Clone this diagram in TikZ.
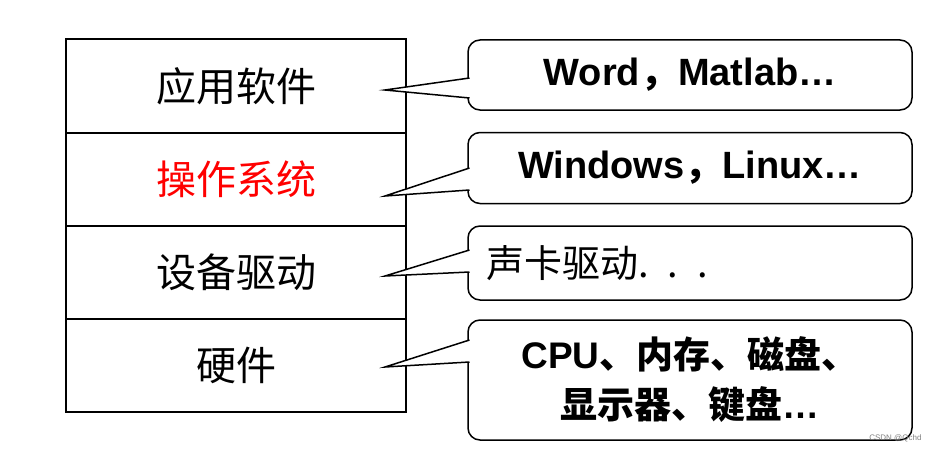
\documentclass[tikz,border=0pt]{standalone}
\usepackage{fontspec}
\setmainfont{Liberation Sans}
\newfontfamily\cjk{Noto Sans CJK SC}
\begin{document}
\begin{tikzpicture}[x=1pt,y=-1pt,
  layer/.style={draw,line width=2pt,minimum width=340pt,minimum height=93pt,inner sep=0pt,font=\cjk\fontsize{40}{44}\selectfont},
  bubble/.style={draw,line width=1.5pt,rounded corners=12pt,minimum width=444pt,inner sep=0pt,font=\bfseries\fontsize{38}{44}\selectfont}]
\useasboundingbox (0,0) rectangle (934,452);
\node[layer] (l1) at (236,86) {应用软件};
\node[layer,text=red] (l2) at (236,179) {操作系统};
\node[layer] (l3) at (236,272) {设备驱动};
\node[layer] (l4) at (236,365) {硬件};
\node[bubble,minimum height=70pt] (b1) at (690,75) {Word{\cjk，}Matlab…};
\node[bubble,minimum height=71pt] (b2) at (690,168) {Windows{\cjk，}Linux…};
\node[bubble,minimum height=74pt,font=\cjk\fontsize{38}{44}\selectfont,text width=408pt,align=left] (b3) at (690,263) {声卡驱动. . .};
\node[bubble,minimum height=120pt,font=\bfseries\fontsize{37}{50}\selectfont,align=center] (b4) at (690,380) {CPU{\cjk 、内存、磁盘、}\\{\cjk 显示器、键盘}…};
\coordinate (t1) at (385,90);
\coordinate (t2) at (385,196);
\coordinate (t3) at (385,276);
\coordinate (t4) at (385,367);
\foreach \t/\ya/\yb in {t1/78/98, t2/168/190, t3/250/272, t4/340/362}{
  \fill[white] (\t) -- (469,\ya) -- (469,\yb) -- cycle;
  \draw[line width=1.5pt] (469.5,\ya) -- (\t) -- (469.5,\yb);
}
\node[text=gray,font=\fontsize{8}{9}\selectfont,anchor=south east] (wm) at (925,446) {CSDN @Qchd};
\end{tikzpicture}
\end{document}
